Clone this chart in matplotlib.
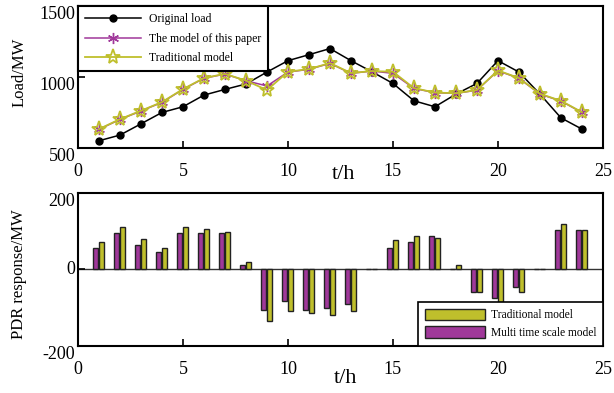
import matplotlib
matplotlib.use("Agg")
import matplotlib.pyplot as plt
import numpy as np

plt.rcParams['font.family'] = ['Liberation Serif', 'DejaVu Serif']
plt.rcParams['mathtext.fontset'] = 'stix'
plt.rcParams['axes.unicode_minus'] = False

hours = list(range(1, 25))
original_load = [552, 592, 671, 751, 791, 873, 913, 951, 1035, 1115, 1157, 1200,
                 1115, 1037, 955, 833, 791, 880, 955, 1115, 1035, 880, 713, 634]
model_load = [632, 702, 761, 822, 913, 991, 1021, 974, 937, 1035, 1054, 1096,
              1026, 1042, 1026, 920, 890, 885, 908, 1044, 991, 880, 831, 751]
traditional_load = [634, 704, 763, 824, 915, 993, 1022, 975, 908, 1037, 1056, 1098,
                    1028, 1042, 1037, 922, 891, 886, 909, 1046, 993, 882, 833, 753]

multi_pdr = [57, 95, 65, 46, 95, 95, 95, 11, -105, -83, -105, -102,
             -90, 0, 57, 72, 87, 0, -60, -75, -46, 0, 104, 104]
trad_pdr = [72, 110, 80, 57, 110, 106, 98, 19, -136, -110, -113, -118,
            -108, 0, 76, 87, 82, 12, -60, -86, -60, 0, 120, 104]

x_ticks = [0, 5, 10, 15, 20, 25]
load_ticks = [500, 1000, 1500]
pdr_ticks = [-200, 0, 200]

MAG = '#A0389A'
YEL = '#BFBF2C'

fig = plt.figure(figsize=(6.14, 3.93), dpi=100)
ax1 = fig.add_axes([0.127, 0.623, 0.855, 0.362])
ax2 = fig.add_axes([0.127, 0.120, 0.855, 0.389])

t = np.array(hours)

ax1.plot(t, original_load, color='black', lw=1.1, marker='o', ms=5, label='Original load', zorder=3)
ax1.plot(t, model_load, color=MAG, lw=1.1, marker=(6, 2, 0), ms=8, mew=1.0, label='The model of this paper', zorder=4)
ax1.plot(t, traditional_load, color=YEL, lw=1.3, marker='*', ms=11, mfc='none', mec=YEL, mew=1.3,
         label='Traditional model', zorder=5)

ax1.set_xlim(0, 25)
ax1.set_ylim(500, 1500)
ax1.set_xticks(x_ticks)
ax1.set_yticks(load_ticks)
leg1 = ax1.legend(loc='upper left', bbox_to_anchor=(0, 1), borderaxespad=0, handlelength=4.7,
                  fontsize=8.5, frameon=True, fancybox=False, framealpha=1, edgecolor='black',
                  labelspacing=0.65, borderpad=0.6, handletextpad=0.7)
leg1.get_frame().set_linewidth(1.5)

w = 0.25
ax2.axhline(0, color='#333333', lw=1.0, zorder=1)
ax2.bar(t + 0.12, trad_pdr, width=w, color=YEL, edgecolor='#222222', lw=1.0, label='Traditional model', zorder=2)
ax2.bar(t - 0.15, multi_pdr, width=w, color=MAG, edgecolor='#222222', lw=1.0, label='Multi time scale model', zorder=2)
ax2.set_xlim(0, 25)
ax2.set_ylim(-200, 200)
ax2.set_xticks(x_ticks)
ax2.set_yticks(pdr_ticks)
leg2 = ax2.legend(loc='lower right', bbox_to_anchor=(1, 0), borderaxespad=0, handlelength=5.2,
                  handleheight=1.1, fontsize=8.3, frameon=True, fancybox=False, framealpha=1,
                  edgecolor='black', labelspacing=0.45, borderpad=0.6, handletextpad=0.5)
leg2.get_frame().set_linewidth(1.2)

for ax in (ax1, ax2):
    for s in ax.spines.values():
        s.set_linewidth(1.5)
    ax.tick_params(direction='in', length=5, width=1.2, top=False, right=False, labelsize=13)
    ax.tick_params(axis='x', pad=11)
    ax.tick_params(axis='y', pad=2)
    for lbl in ax.get_yticklabels():
        lbl.set_va('top')

for lbl in ax2.get_yticklabels():
    if lbl.get_text() in ('0',):
        lbl.set_va('center')

fig.text(0.559, 0.555, 't/h', fontsize=16, ha='center', va='center')
fig.text(0.562, 0.036, 't/h', fontsize=16, ha='center', va='center')
fig.text(0.031, 0.817, 'Load/MW', fontsize=12, rotation=90, ha='center', va='center')
fig.text(0.031, 0.303, 'PDR response/MW', fontsize=12, rotation=90, ha='center', va='center')

fig.savefig('out.png', dpi=100)
